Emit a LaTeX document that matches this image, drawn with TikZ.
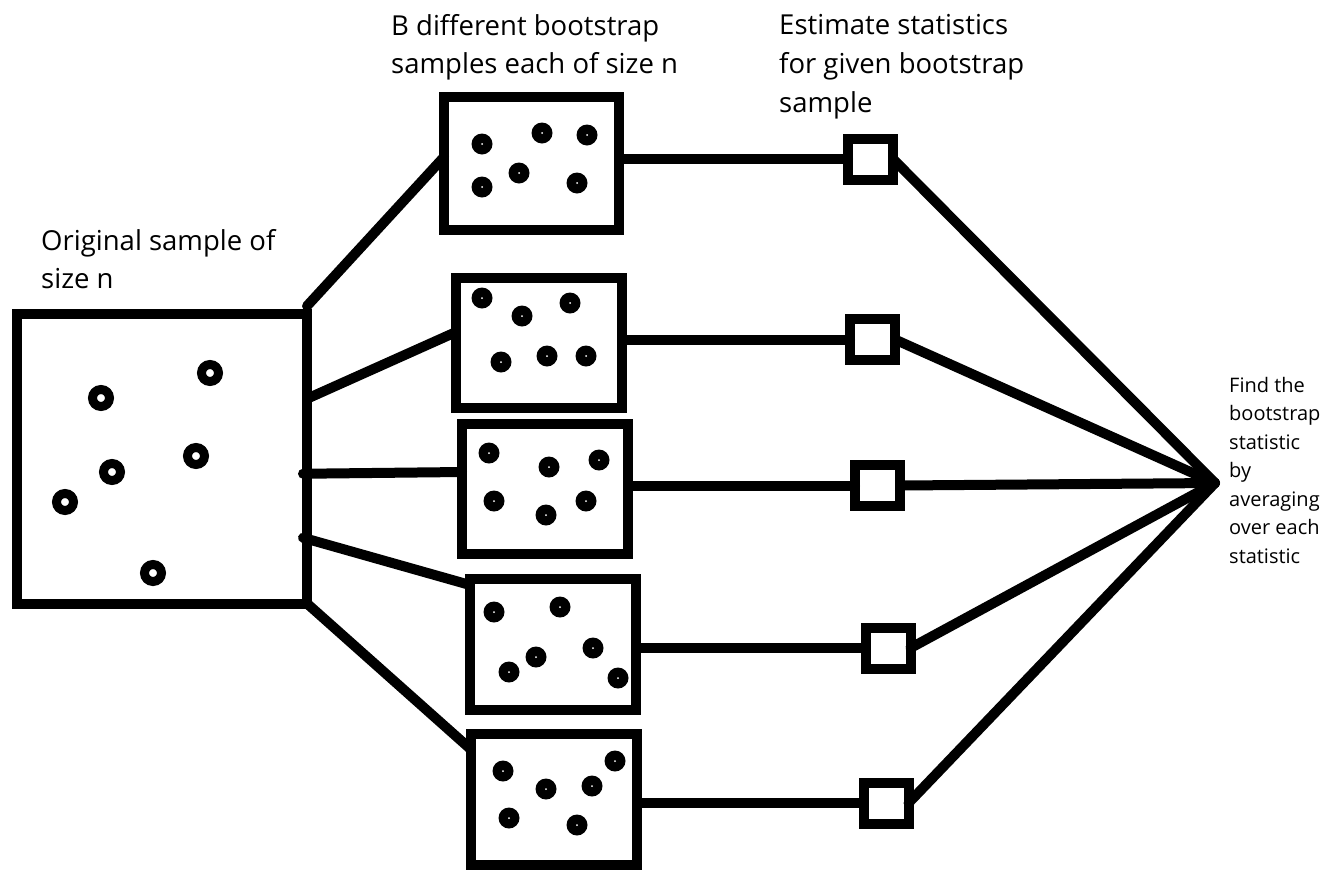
\documentclass[tikz,border=0pt]{standalone}
\usepackage{fontspec}
\setmainfont{Open Sans}
\usetikzlibrary{calc}
\begin{document}
\begin{tikzpicture}[x=1pt,y=-1pt,
  box/.style={draw, line width=10pt, rectangle, inner sep=0pt, outer sep=0pt},
  sbox/.style={box, minimum width=166pt, minimum height=130pt},
  stat/.style={box, minimum width=45pt, minimum height=41pt},
  conn/.style={line width=10pt, line cap=round},
  ring/.style={line width=9pt},
  lbl/.style={align=left, inner sep=0pt, anchor=north west},
  big/.style={font=\fontsize{27.5}{38}\selectfont},
  small/.style={font=\fontsize{20}{28.5}\selectfont}]
\fill[white] (0,0) rectangle (1338,876);
\useasboundingbox (0,0) rectangle (1338,876);

% boxes
\node[box, minimum width=290pt, minimum height=289.5pt] (orig) at (162,458.75) {};
\node[box, minimum width=175pt, minimum height=133pt] (b1) at (531.5,163.5) {};
\node[sbox] (b2) at (539,343) {};
\node[sbox] (b3) at (545,489) {};
\node[sbox, minimum height=131pt] (b4) at (553,644.5) {};
\node[sbox, minimum height=131pt] (b5) at (554,799.5) {};

\node[stat] (s1) at (870.5,159) {};
\node[stat] (s2) at (872.5,339.5) {};
\node[stat] (s3) at (877.5,485.5) {};
\node[stat] (s4) at (888,648) {};
\node[stat] (s5) at (886,803) {};
\coordinate (hub) at (1215,483);

% connectors original -> samples
\draw[conn] ($(orig.north east)+(0,-8)$) -- ($(b1.west)+(0,-6.5)$);
\draw[conn] ($(orig.east)+(0,-60)$) -- ($(b2.west)+(0,-11)$);
\draw[conn] ($(orig.east)+(-4,15)$) -- ($(b3.west)+(0,-17)$);
\draw[conn] ($(orig.east)+(-4,79)$) -- ($(b4.north west)+(0,6)$);
\draw[conn] (orig.south east) -- ($(b5.west)+(0,-50)$);

% samples -> statistics
\foreach \i in {1,...,5}{
  \draw[conn] (s\i.west -| b\i.east) -- (s\i.west);
  \draw[conn] (s\i.east) -- (hub);
}

% rings in original sample
\foreach \x/\y in {101/398,210/373,112/472,196/456,65/502,153/573}
  \draw[ring] (\x,\y) circle[radius=8.5];

% dots in bootstrap samples
\foreach \x/\y in {482/144,542/133,587/135,519/173,482/187,577/183,
                   482/298,522/316,570/303,501/362,547/356,586/356,
                   489/453,549/467,599/460,494/501,546/515,586/501,
                   494/612,560/607,593/648,509/672,536/657,618/678,
                   503/771,546/789,592/786,615/761,509/818,577/825}{
  \fill (\x,\y) circle[radius=10.5];
  \fill[white] (\x,\y) circle[radius=1];
}

% labels
\node[lbl, big] (lorig) at (41,229) {Original sample of\\size n};
\node[lbl, big] (lboot) at (391,14) {B different bootstrap\\samples each of size n};
\node[lbl, big, font=\fontsize{27.5}{39}\selectfont] (lest) at (779,14) {Estimate statistics\\for given bootstrap\\sample};
\node[lbl, small] (lfind) at (1229,377) {Find the\\bootstrap\\statistic\\by\\averaging\\over each\\statistic};
\end{tikzpicture}
\end{document}
